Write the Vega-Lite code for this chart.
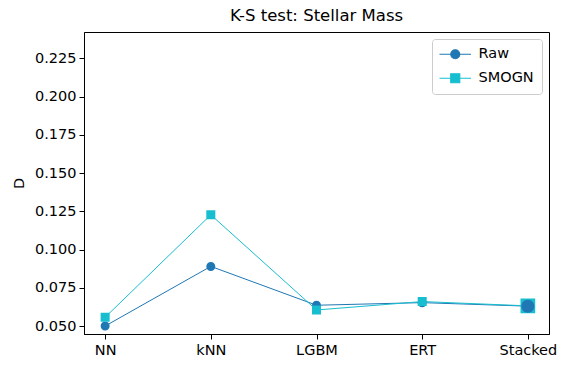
{
  "$schema": "https://vega.github.io/schema/vega-lite/v6.json",
  "autosize": "none",
  "width": 465,
  "height": 302,
  "padding": {"left": 84, "top": 32, "right": 19, "bottom": 35},
  "background": "white",
  "config": {
    "font": "DejaVu Sans",
    "view": {"stroke": "black", "strokeWidth": 1},
    "axis": {
      "grid": false,
      "domainColor": "black",
      "tickColor": "black",
      "tickSize": 5,
      "labelFontSize": 14.5,
      "labelColor": "black",
      "titleFontSize": 14.5,
      "titleFontWeight": "normal",
      "titleColor": "black",
      "labelFont": "DejaVu Sans",
      "titleFont": "DejaVu Sans"
    },
    "title": {"fontSize": 16.5, "fontWeight": "normal", "font": "DejaVu Sans", "color": "black", "offset": 8}
  },
  "title": {"text": "K-S test: Stellar Mass", "anchor": "middle"},
  "data": {
    "values": [
      {"model": "NN", "series": "Raw", "D": 0.0500},
      {"model": "kNN", "series": "Raw", "D": 0.0890},
      {"model": "LGBM", "series": "Raw", "D": 0.0636},
      {"model": "ERT", "series": "Raw", "D": 0.0653},
      {"model": "Stacked", "series": "Raw", "D": 0.0630},
      {"model": "NN", "series": "SMOGN", "D": 0.0557},
      {"model": "kNN", "series": "SMOGN", "D": 0.1227},
      {"model": "LGBM", "series": "SMOGN", "D": 0.0605},
      {"model": "ERT", "series": "SMOGN", "D": 0.0660},
      {"model": "Stacked", "series": "SMOGN", "D": 0.0632}
    ]
  },
  "encoding": {
    "x": {
      "field": "model", "type": "nominal",
      "sort": ["NN", "kNN", "LGBM", "ERT", "Stacked"],
      "scale": {"type": "point", "padding": 0.2},
      "axis": {"title": null, "labelAngle": 0, "labelPadding": 4}
    },
    "y": {
      "field": "D", "type": "quantitative",
      "scale": {"domain": [0.0448, 0.2422], "nice": false, "zero": false},
      "axis": {"title": "D", "values": [0.05, 0.075, 0.1, 0.125, 0.15, 0.175, 0.2, 0.225], "format": ".3f", "labelPadding": 3, "titlePadding": 8}
    },
    "color": {
      "field": "series", "type": "nominal",
      "scale": {"domain": ["Raw", "SMOGN"], "range": ["#1f77b4", "#17becf"]},
      "legend": {
        "title": null,
        "orient": "top-right",
        "offset": 7,
        "labelFontSize": 14.5,
        "labelFont": "DejaVu Sans",
        "labelColor": "black",
        "symbolSize": 81,
        "symbolStrokeWidth": 1.2,
        "symbolOffset": 8,
        "labelOffset": 16,
        "padding": 8,
        "rowPadding": 8,
        "fillColor": "white",
        "strokeColor": "#cccccc",
        "cornerRadius": 3,
        "encode": {"symbols": {"update": {"stroke": {"scale": "color", "field": "value"}, "strokeWidth": {"value": 1.2}}}}
      }
    },
    "shape": {
      "field": "series", "type": "nominal",
      "scale": {"domain": ["Raw", "SMOGN"], "range": [
        "M-3.5,0H3.5M1,0A1,1 0 1,1 -1,0A1,1 0 1,1 1,0Z",
        "M-3.5,0H3.5M-1,-1H1V1H-1Z"
      ]},
      "legend": null
    }
  },
  "layer": [
    {"mark": {"type": "line", "strokeWidth": 1}, "encoding": {"shape": null}},
    {"transform": [{"filter": "datum.model !== 'Stacked'"}], "mark": {"type": "point", "filled": true, "size": 81, "opacity": 1, "strokeWidth": 0}},
    {"transform": [{"filter": "datum.model === 'Stacked' && datum.series === 'SMOGN'"}], "mark": {"type": "point", "filled": true, "size": 216, "opacity": 1, "strokeWidth": 0}},
    {"transform": [{"filter": "datum.model === 'Stacked' && datum.series === 'Raw'"}], "mark": {"type": "point", "filled": true, "size": 169, "opacity": 1, "strokeWidth": 0}}
  ]
}
